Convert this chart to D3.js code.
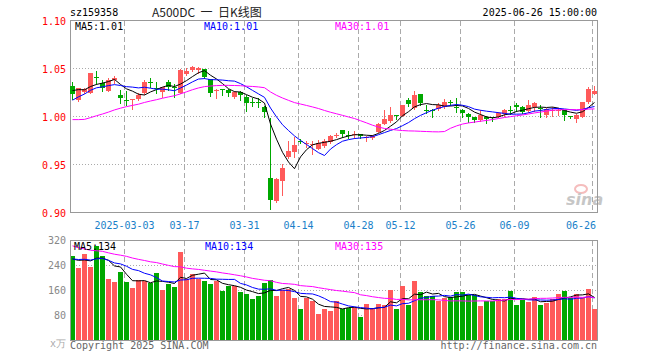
<!DOCTYPE html>
<html>
<head>
<meta charset="utf-8">
<script src="https://cdn.jsdelivr.net/npm/d3@7"></script>
<style>
  body { margin: 0; background: #fff; }
  text { font-family: "DejaVu Sans Mono", monospace; font-size: 10px; white-space: pre; }
</style>
</head>
<body>
<div id="chart"></div>
<script>
var dates = [
  "02-18","02-19","02-20","02-21","02-24","02-25","02-26","02-27","02-28",
  "03-03","03-04","03-05","03-06","03-07","03-10","03-11","03-12","03-13","03-14",
  "03-17","03-18","03-19","03-20","03-21","03-24","03-25","03-26","03-27","03-28","03-31",
  "04-01","04-02","04-03","04-07","04-08","04-09","04-10","04-11","04-14","04-15",
  "04-16","04-17","04-18","04-21","04-22","04-23","04-24","04-25","04-28","04-29","04-30",
  "05-06","05-07","05-08","05-09","05-12","05-13","05-14","05-15","05-16","05-19",
  "05-20","05-21","05-22","05-23","05-26","05-27","05-28","05-29","05-30",
  "06-03","06-04","06-05","06-06","06-09","06-10","06-11","06-12","06-13","06-16",
  "06-17","06-18","06-19","06-20","06-23","06-24","06-25","06-26"
];

var opens = [1.032,1.017,1.026,1.025,1.041,1.035,1.027,1.038,1.022,1.0175,
  1.017,1.018,1.024,1.036,1.030,1.026,1.036,1.031,1.025,1.044,
  1.048,1.048,1.049,1.039,1.027,1.0285,1.028,1.020,1.026,1.020,
  1.015,1.015,1.010,0.936,0.912,0.933,0.958,0.963,0.975,0.972,
  0.971,0.966,0.969,0.973,0.9805,0.986,0.981,0.981,0.982,0.978,
  0.978,0.984,0.992,0.995,1.0015,1.001,1.017,1.009,1.023,1.007,
  1.007,1.008,1.010,1.0148,1.010,1.0065,1.003,0.999,0.996,1.000,
  0.9992,1.000,1.003,1.0068,1.012,1.010,1.006,1.010,1.0085,1.002,
  1.0065,1.006,1.0066,1.0005,0.997,1.000,1.015,1.023];
var highs = [1.036,1.030,1.030,1.045,1.047,1.038,1.040,1.042,1.028,1.027,
  1.018,1.024,1.038,1.040,1.036,1.031,1.038,1.034,1.049,1.051,
  1.053,1.052,1.050,1.039,1.029,1.029,1.029,1.027,1.027,1.022,
  1.019,1.019,1.011,0.998,0.936,0.951,0.974,0.979,0.977,0.974,
  0.974,0.976,0.977,0.981,0.983,0.986,0.985,0.985,0.982,0.980,
  0.981,0.993,1.007,1.010,1.002,1.012,1.019,1.027,1.023,1.012,
  1.008,1.014,1.018,1.017,1.019,1.008,1.004,0.999,1.007,1.001,
  1.000,1.005,1.008,1.011,1.014,1.011,1.017,1.015,1.012,1.009,
  1.010,1.009,1.0066,1.001,1.003,1.015,1.031,1.032];
var lows = [1.018,1.016,1.025,1.025,1.034,1.027,1.027,1.035,1.014,1.012,
  1.008,1.017,1.023,1.031,1.024,1.020,1.028,1.020,1.024,1.043,
  1.047,1.045,1.040,1.021,1.019,1.022,1.021,1.019,1.017,1.006,
  1.011,1.010,0.999,0.904,0.911,0.918,0.957,0.958,0.972,0.968,
  0.961,0.966,0.968,0.972,0.979,0.979,0.978,0.978,0.978,0.975,
  0.977,0.984,0.992,0.994,0.997,1.001,1.011,1.008,1.012,1.004,
  1.000,1.007,1.009,1.012,1.005,0.999,0.994,0.994,0.995,0.993,
  0.995,0.999,1.001,1.003,1.006,1.004,1.005,1.006,1.000,1.000,
  1.001,1.002,0.996,0.998,0.994,1.000,1.014,1.023];
var closes = [1.023,1.030,1.029,1.045,1.040,1.030,1.038,1.040,1.019,1.017,
  1.018,1.022,1.036,1.035,1.029,1.031,1.031,1.030,1.048,1.047,
  1.052,1.051,1.041,1.024,1.0275,1.028,1.024,1.026,1.022,1.014,
  1.0145,1.0145,1.005,0.913,0.935,0.946,0.964,0.970,0.9745,0.9725,
  0.9715,0.972,0.975,0.980,0.981,0.982,0.9805,0.9815,0.980,0.9785,
  0.980,0.992,0.997,1.002,1.001,1.012,1.013,1.022,1.014,1.0065,
  1.0065,1.012,1.015,1.0145,1.0095,1.004,0.999,0.996,1.002,0.997,
  0.999,1.004,1.007,1.0065,1.010,1.005,1.012,1.014,1.008,1.008,
  1.007,1.0065,1.0014,1.000,1.002,1.015,1.029,1.027];

// volume, in 10k units
var volumes = [269,232,277,235,304,271,196,187,219,187,
  168,193,192,184,216,161,180,171,283,197,
  213,197,189,180,192,157,175,173,154,148,
  132,144,184,195,144,162,164,136,100,136,
  125,84,100,93,128,100,105,107,75,118,
  105,118,115,163,102,173,115,189,154,143,
  143,125,137,139,154,154,146,145,112,128,
  126,134,132,158,115,130,122,138,115,120,
  134,150,157,137,149,137,166,100];

// closes / volumes of the days before the window (only feed the moving averages)
var preCloses = [1.030,1.022,0.990,0.982,0.975,0.978,0.972,0.965,0.968,0.980,
  0.984,0.982,0.990,0.988,0.985,0.990,0.992,0.990,0.984,0.986,
  0.995,1.000,1.006,1.014,1.020,1.025,1.030,1.028,1.029];
var preVolumes = [420,390,360,350,330,340,320,310,300,330,
  320,300,310,290,300,310,290,300,330,280,
  250,270,260,265,260,255,270,250,261];

var tickDates = ["03-03","03-17","03-31","04-14","04-28","05-12","05-26","06-09","06-26"];
var tickLabels = ["2025-03-03","03-17","03-31","04-14","04-28","05-12","05-26","06-09","06-26"];
var priceTicks = [0.90, 0.95, 1.00, 1.05, 1.10];
var volTicks = [80, 160, 240, 320];

var upColor = "#ff5a5a", downColor = "#00a800";

function movingAvg(values, pre, n) {
  var all = pre.concat(values);
  return values.map(function(v, i) {
    var end = i + pre.length;
    return d3.mean(all.slice(end - n + 1, end + 1));
  });
}

var candles = dates.map(function(d, i) {
  return { date: d, open: opens[i], high: highs[i], low: lows[i], close: closes[i], volume: volumes[i] };
});

var svg = d3.select("#chart")
  .append("svg")
  .attr("width", 660)
  .attr("height", 360);

var xScale = d3.scaleBand().domain(dates).range([69.5, 597.5]);
var yPrice = d3.scaleLinear().domain([0.90, 1.10]).range([212.5, 20.5]);
var yVol = d3.scaleLinear().domain([0, 320]).range([340.5, 240.5]);

function cx(d) { return xScale(d) + 3; }
function isUp(d) { return d.close >= d.open; }

// header
svg.append("text").attr("x", 70).attr("y", 16).attr("fill", "#000").text("sz159358");
svg.append("text").attr("x", 152).attr("y", 17)
  .style("font-family", "'Noto Sans CJK SC', sans-serif").style("font-size", "12px")
  .attr("fill", "#222").text("A500DC  一  日K线图");
svg.append("text").attr("x", 597).attr("y", 16).attr("text-anchor", "end").attr("fill", "#000")
  .text("2025-06-26 15:00:00");

// ---- price panel ----
var grid = svg.append("g").attr("shape-rendering", "crispEdges");

grid.selectAll(".hgrid")
  .data(priceTicks.filter(function(t) { return t > 0.9 && t < 1.1; }))
  .enter().append("line")
  .attr("x1", 70).attr("x2", 597)
  .attr("y1", function(d) { return Math.round(yPrice(d) - 0.5) + 0.5; })
  .attr("y2", function(d) { return Math.round(yPrice(d) - 0.5) + 0.5; })
  .attr("stroke", "#aaa").attr("stroke-dasharray", "1,2");

grid.selectAll(".vgrid")
  .data(tickDates)
  .enter().append("line")
  .attr("x1", function(d) { return xScale(d) + 1; })
  .attr("x2", function(d) { return xScale(d) + 1; })
  .attr("y1", 21).attr("y2", 212)
  .attr("stroke", "#aaa").attr("stroke-dasharray", "5,3");

svg.append("rect")
  .attr("x", 70.5).attr("y", 20.5).attr("width", 527).attr("height", 192)
  .attr("fill", "none").attr("stroke", "#999").attr("shape-rendering", "crispEdges");

svg.selectAll(".price-label")
  .data(priceTicks)
  .enter().append("text")
  .attr("x", 66).attr("y", function(d) { return yPrice(d) + 4.5; })
  .attr("text-anchor", "end").attr("fill", "#f00")
  .text(function(d) { return d.toFixed(2); });

svg.selectAll(".date-label")
  .data(tickDates)
  .enter().append("text")
  .attr("x", function(d, i) { return i === tickDates.length - 1 ? 596 : xScale(d) + 1; })
  .attr("y", 229)
  .attr("text-anchor", function(d, i) { return i === tickDates.length - 1 ? "end" : "middle"; })
  .attr("fill", "#1a7fc9")
  .text(function(d, i) { return tickLabels[i]; });

// sina watermark
var logo = svg.append("g").attr("opacity", 0.55);
logo.append("ellipse").attr("cx", 581).attr("cy", 189).attr("rx", 6).attr("ry", 4)
  .attr("fill", "none").attr("stroke", "#e88").attr("stroke-width", 2);
logo.append("text").attr("x", 566).attr("y", 205)
  .style("font-family", "'DejaVu Sans', sans-serif").style("font-size", "16px")
  .style("font-style", "italic").style("font-weight", "bold")
  .attr("fill", "#999").text("sina");

var candleG = svg.append("g").attr("shape-rendering", "crispEdges");

candleG.selectAll(".wick")
  .data(candles)
  .enter().append("line")
  .attr("x1", function(d) { return cx(d.date); })
  .attr("x2", function(d) { return cx(d.date); })
  .attr("y1", function(d) { return Math.round(yPrice(d.high)); })
  .attr("y2", function(d) { return Math.round(yPrice(d.low)) + 1; })
  .attr("stroke", function(d) { return isUp(d) ? upColor : downColor; });

candleG.selectAll(".body")
  .data(candles)
  .enter().append("rect")
  .attr("x", function(d) { return xScale(d.date) + 0.5; })
  .attr("width", 5)
  .attr("y", function(d) { return Math.round(yPrice(Math.max(d.open, d.close))); })
  .attr("height", function(d) {
    return Math.max(1, Math.round(yPrice(Math.min(d.open, d.close))) - Math.round(yPrice(Math.max(d.open, d.close))));
  })
  .attr("fill", function(d) { return isUp(d) ? upColor : downColor; });

var priceMA = [
  { n: 5, color: "#000" },
  { n: 10, color: "#00f" },
  { n: 30, color: "#f0f" }
];

var priceLine = d3.line()
  .x(function(d, i) { return cx(dates[i]); })
  .y(function(d) { return yPrice(d); });

priceMA.forEach(function(m) {
  svg.append("path")
    .datum(movingAvg(closes, preCloses, m.n))
    .attr("d", priceLine)
    .attr("fill", "none")
    .attr("stroke", m.color)
    .attr("stroke-width", 1);
});

svg.append("text").attr("x", 75).attr("y", 30).attr("fill", "#000").text("MA5:1.01");
svg.append("text").attr("x", 204).attr("y", 30).attr("fill", "#00f").text("MA10:1.01");
svg.append("text").attr("x", 335).attr("y", 30).attr("fill", "#f0f").text("MA30:1.01");

// ---- volume panel ----
var vgrid = svg.append("g").attr("shape-rendering", "crispEdges");

vgrid.selectAll(".hgrid")
  .data(volTicks.filter(function(t) { return t < 320; }))
  .enter().append("line")
  .attr("x1", 70).attr("x2", 597)
  .attr("y1", function(d) { return Math.round(yVol(d) - 0.5) + 0.5; })
  .attr("y2", function(d) { return Math.round(yVol(d) - 0.5) + 0.5; })
  .attr("stroke", "#aaa").attr("stroke-dasharray", "1,2");

vgrid.selectAll(".vgrid")
  .data(tickDates)
  .enter().append("line")
  .attr("x1", function(d) { return xScale(d) + 1; })
  .attr("x2", function(d) { return xScale(d) + 1; })
  .attr("y1", 241).attr("y2", 340)
  .attr("stroke", "#aaa").attr("stroke-dasharray", "5,3");

svg.append("g").attr("shape-rendering", "crispEdges")
  .selectAll("rect")
  .data(candles)
  .enter().append("rect")
  .attr("x", function(d) { return xScale(d.date) + 0.5; })
  .attr("width", 5)
  .attr("y", function(d) { return Math.round(yVol(d.volume)); })
  .attr("height", function(d) { return 341 - Math.round(yVol(d.volume)); })
  .attr("fill", function(d) { return isUp(d) ? upColor : downColor; });

var volLine = d3.line()
  .x(function(d, i) { return cx(dates[i]); })
  .y(function(d) { return yVol(d); });

priceMA.forEach(function(m) {
  svg.append("path")
    .datum(movingAvg(volumes, preVolumes, m.n))
    .attr("d", volLine)
    .attr("fill", "none")
    .attr("stroke", m.color)
    .attr("stroke-width", 1);
});

svg.append("rect")
  .attr("x", 70.5).attr("y", 240.5).attr("width", 527).attr("height", 100)
  .attr("fill", "none").attr("stroke", "#999").attr("shape-rendering", "crispEdges");

svg.selectAll(".vol-label")
  .data(volTicks)
  .enter().append("text")
  .attr("x", 66).attr("y", function(d) { return yVol(d) + 3.5; })
  .attr("text-anchor", "end").attr("fill", "#888")
  .text(function(d) { return d; });

svg.append("text").attr("x", 66).attr("y", 347).attr("text-anchor", "end")
  .attr("fill", "#aaa").text("x万");

svg.append("text").attr("x", 74).attr("y", 250).attr("fill", "#000").text("MA5:134");
svg.append("text").attr("x", 205).attr("y", 250).attr("fill", "#00f").text("MA10:134");
svg.append("text").attr("x", 335).attr("y", 250).attr("fill", "#f0f").text("MA30:135");

// footer
svg.append("text").attr("x", 70).attr("y", 349).attr("fill", "#666").text("Copyright 2025 SINA.COM");
svg.append("text").attr("x", 597).attr("y", 349).attr("text-anchor", "end").attr("fill", "#666")
  .text("http://finance.sina.com.cn");
</script>
</body>
</html>
